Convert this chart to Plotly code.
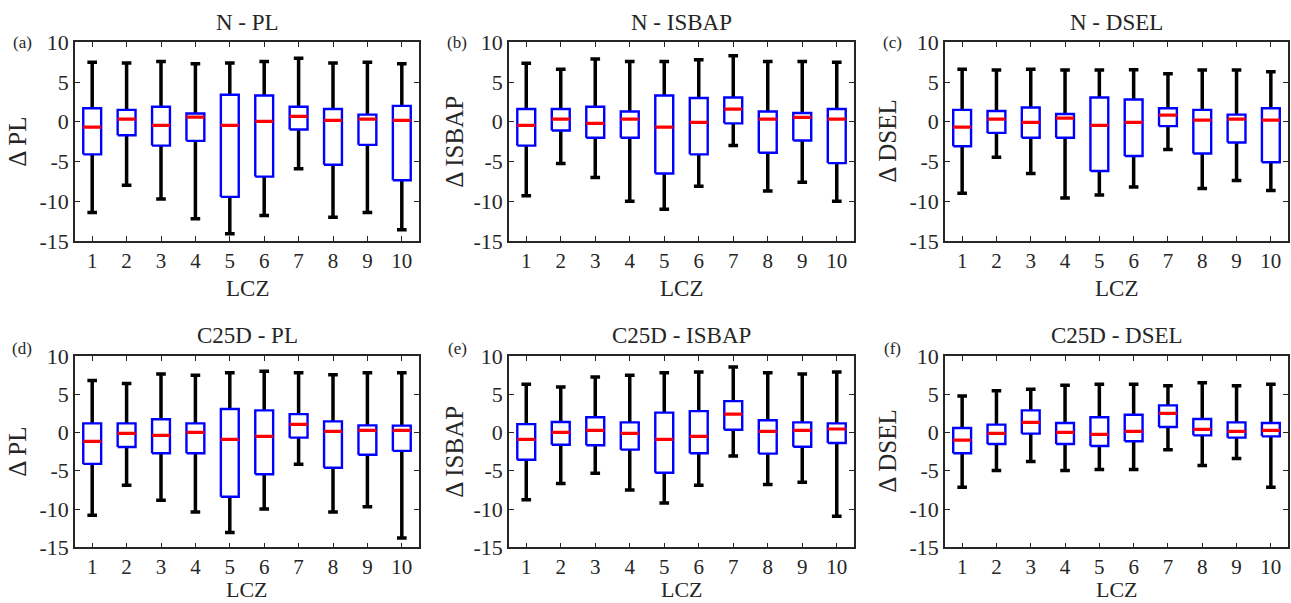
import plotly.graph_objects as go

lcz = [1, 2, 3, 4, 5, 6, 7, 8, 9, 10]
ytick_vals = [10, 5, 0, -5, -10, -15]
ytick_text = ["10", "5", "0", "-5", "-10", "-15"]

panel_titles = ["N - PL", "N - ISBAP", "N - DSEL", "C25D - PL", "C25D - ISBAP", "C25D - DSEL"]
panel_letters = ["(a)", "(b)", "(c)", "(d)", "(e)", "(f)"]
y_titles = ["Δ PL", "Δ ISBAP", "Δ DSEL", "Δ PL", "Δ ISBAP", "Δ DSEL"]
x_title = "LCZ"

# (a) N - PL
a_hi = [7.5, 7.4, 7.6, 7.3, 7.4, 7.6, 8.0, 7.4, 7.5, 7.3]
a_q3 = [1.7, 1.5, 1.9, 1.05, 3.4, 3.3, 1.9, 1.6, 0.9, 2.0]
a_med = [-0.67, 0.34, -0.46, 0.59, -0.46, 0.04, 0.67, 0.17, 0.34, 0.17]
a_q1 = [-4.1, -1.7, -3.0, -2.4, -9.45, -6.9, -0.97, -5.4, -2.9, -7.35]
a_lo = [-11.4, -8.0, -9.7, -12.2, -14.1, -11.8, -5.9, -12.0, -11.4, -13.6]

# (b) N - ISBAP
b_hi = [7.35, 6.6, 7.9, 7.6, 7.6, 7.8, 8.3, 7.6, 7.6, 7.5]
b_q3 = [1.6, 1.6, 1.9, 1.3, 3.3, 3.0, 3.05, 1.3, 1.1, 1.6]
b_med = [-0.46, 0.34, -0.2, 0.34, -0.67, -0.08, 1.6, 0.34, 0.55, 0.34]
b_q1 = [-3.0, -1.1, -2.0, -2.0, -6.5, -4.1, -0.2, -3.9, -2.35, -5.2]
b_lo = [-9.3, -5.25, -7.0, -10.0, -11.0, -8.1, -3.0, -8.7, -7.6, -10.0]

# (c) N - DSEL
c_hi = [6.6, 6.5, 6.6, 6.5, 6.5, 6.55, 6.05, 6.5, 6.5, 6.3]
c_q3 = [1.5, 1.35, 1.8, 0.97, 3.05, 2.8, 1.7, 1.5, 0.9, 1.7]
c_med = [-0.67, 0.34, -0.08, 0.46, -0.46, -0.08, 0.84, 0.21, 0.34, 0.21]
c_q1 = [-3.07, -1.4, -2.0, -2.0, -6.2, -4.3, -0.55, -4.0, -2.6, -5.1]
c_lo = [-9.0, -4.45, -6.5, -9.6, -9.2, -8.2, -3.5, -8.4, -7.4, -8.65]

# (d) C25D - PL
d_hi = [6.8, 6.4, 7.65, 7.5, 7.8, 8.0, 7.8, 7.55, 7.8, 7.8]
d_q3 = [1.2, 1.2, 1.73, 1.2, 3.07, 2.9, 2.4, 1.46, 0.94, 0.9]
d_med = [-1.15, -0.1, -0.37, 0.03, -0.9, -0.5, 1.07, 0.16, 0.29, 0.29]
d_q1 = [-4.1, -1.9, -2.7, -2.7, -8.4, -5.45, -0.67, -4.6, -2.9, -2.4]
d_lo = [-10.8, -6.9, -8.85, -10.4, -13.05, -10.0, -4.15, -10.4, -9.7, -13.8]

# (e) C25D - ISBAP
e_hi = [6.3, 5.95, 7.25, 7.5, 7.8, 7.9, 8.55, 7.8, 7.65, 7.9]
e_q3 = [1.1, 1.37, 2.0, 1.33, 2.6, 2.8, 4.1, 1.6, 1.33, 1.2]
e_med = [-0.9, 0.03, 0.29, -0.1, -0.9, -0.5, 2.4, 0.16, 0.29, 0.46]
e_q1 = [-3.55, -1.6, -1.67, -2.24, -5.25, -2.7, 0.37, -2.76, -1.85, -1.37]
e_lo = [-8.8, -6.65, -5.33, -7.5, -9.2, -6.9, -3.07, -6.8, -6.5, -10.95]

# (f) C25D - DSEL
f_hi = [4.77, 5.47, 5.65, 6.17, 6.3, 6.3, 6.1, 6.5, 6.1, 6.3]
f_q3 = [0.6, 1.03, 2.9, 1.24, 2.0, 2.33, 3.55, 1.77, 1.33, 1.24]
f_med = [-1.0, -0.1, 1.33, 0.03, -0.24, 0.16, 2.5, 0.42, 0.16, 0.29]
f_q1 = [-2.7, -1.5, -0.15, -1.5, -1.76, -1.15, 0.72, -0.37, -0.67, -0.5]
f_lo = [-7.15, -4.95, -3.8, -4.95, -4.83, -4.83, -2.24, -4.3, -3.4, -7.15]

panels = [
    (a_hi, a_q3, a_med, a_q1, a_lo),
    (b_hi, b_q3, b_med, b_q1, b_lo),
    (c_hi, c_q3, c_med, c_q1, c_lo),
    (d_hi, d_q3, d_med, d_q1, d_lo),
    (e_hi, e_q3, e_med, e_q1, e_lo),
    (f_hi, f_q3, f_med, f_q1, f_lo),
]

W, H = 1291, 603
x_domains = [(75 / W, 419 / W), (509 / W, 854 / W), (945 / W, 1288 / W)]
y_domains = [(1 - 241 / H, 1 - 42.3 / H), (1 - 547.3 / H, 1 - 356 / H)]

BOX_HW = 0.26
CAP_HW = 0.14
FONT = "Liberation Serif, DejaVu Serif, serif"
TXT = "#262626"

fig = go.Figure()
annotations = []

for i, (hi, q3, med, q1, lo) in enumerate(panels):
    r, c = divmod(i, 3)
    ax = "" if i == 0 else str(i + 1)
    xref, yref = "x" + ax, "y" + ax

    wx, wy = [], []
    bx, by = [], []
    mx, my = [], []
    for xc, h, u, m, l, lw in zip(lcz, hi, q3, med, q1, lo):
        wx += [xc, xc, None, xc, xc, None,
               xc - CAP_HW, xc + CAP_HW, None, xc - CAP_HW, xc + CAP_HW, None]
        wy += [u, h, None, l, lw, None, h, h, None, lw, lw, None]
        bx += [xc - BOX_HW, xc + BOX_HW, xc + BOX_HW, xc - BOX_HW, xc - BOX_HW, None]
        by += [l, l, u, u, l, None]
        mx += [xc - BOX_HW, xc + BOX_HW, None]
        my += [m, m, None]

    fig.add_trace(go.Scatter(x=wx, y=wy, mode="lines", xaxis=xref, yaxis=yref,
                             line=dict(color="black", width=3.5), hoverinfo="skip",
                             showlegend=False))
    fig.add_trace(go.Scatter(x=bx, y=by, mode="lines", xaxis=xref, yaxis=yref,
                             line=dict(color="#0000FF", width=2.4), hoverinfo="skip",
                             showlegend=False))
    fig.add_trace(go.Scatter(x=mx, y=my, mode="lines", xaxis=xref, yaxis=yref,
                             line=dict(color="#FF0000", width=3.2), hoverinfo="skip",
                             showlegend=False))

    axis_common = dict(showline=True, linecolor=TXT, linewidth=1.5, mirror="ticks",
                       ticks="inside", ticklen=5, tickwidth=1, tickcolor=TXT,
                       showgrid=False, zeroline=False, automargin=False)
    fig.update_layout(**{
        "xaxis" + ax: dict(domain=list(x_domains[c]), range=[0.5, 10.5],
                           tickvals=lcz, ticktext=[str(v) for v in lcz],
                           tickfont=dict(family=FONT, size=21, color=TXT),
                           anchor=yref, **axis_common),
        "yaxis" + ax: dict(domain=list(y_domains[r]), range=[-15, 10],
                           tickvals=ytick_vals, ticktext=ytick_text,
                           tickfont=dict(family=FONT, size=22, color=TXT),
                           anchor=xref, **axis_common),
    })

    xd = x_domains[c]
    yd = y_domains[r]
    xmid = (xd[0] + xd[1]) / 2
    title_y = 1 - (22 / H) if r == 0 else 1 - (335 / H)
    annotations.append(dict(text=panel_titles[i], x=xmid, y=title_y, xref="paper", yref="paper",
                            showarrow=False, xanchor="center", yanchor="middle",
                            font=dict(family=FONT, size=23, color=TXT)))
    letter_x = [22, 457, 892][c] / W
    letter_y = 1 - (42.3 / H) if r == 0 else 1 - (348 / H)
    annotations.append(dict(text=panel_letters[i], x=letter_x, y=letter_y, xref="paper", yref="paper",
                            showarrow=False, xanchor="center", yanchor="middle",
                            font=dict(family=FONT, size=17, color=TXT)))
    ytitle_x = [18, 455, 888][c] / W
    annotations.append(dict(text=y_titles[i], x=ytitle_x, y=(yd[0] + yd[1]) / 2,
                            xref="paper", yref="paper", textangle=-90,
                            showarrow=False, xanchor="center", yanchor="middle",
                            font=dict(family=FONT, size=25, color=TXT)))
    if r == 0:
        annotations.append(dict(text=x_title, x=xmid, y=1 - (288 / H), xref="paper", yref="paper",
                                showarrow=False, xanchor="center", yanchor="middle",
                                font=dict(family=FONT, size=23, color=TXT)))
    else:
        annotations.append(dict(text=x_title, x=xmid, y=0.0, xref="paper", yref="paper",
                                showarrow=False, xanchor="center", yanchor="bottom",
                                borderpad=0, font=dict(family=FONT, size=22, color=TXT)))

fig.update_layout(width=W, height=H, margin=dict(l=0, r=0, t=0, b=0, autoexpand=False),
                  paper_bgcolor="white", plot_bgcolor="white",
                  annotations=annotations, showlegend=False)

fig.write_html("out.html", config={"displayModeBar": False})
